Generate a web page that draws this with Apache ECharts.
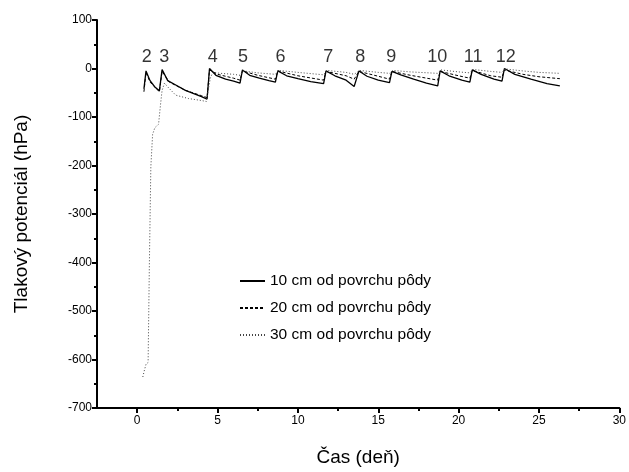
<!DOCTYPE html>
<html lang="sk">

<head>
    <meta charset="UTF-8">
    <title>Tlakový potenciál</title>
    <style>
        html, body { margin: 0; padding: 0; background: #fff; }
        #chart { width: 629px; height: 472px; }
    </style>
    <script src="https://cdn.jsdelivr.net/npm/echarts@6/dist/echarts.min.js"></script>
</head>

<body>
    <div id="chart"></div>

    <script>
        // [day, hPa]
        var depth10 = [
            [0.42, -42], [0.55, -5], [0.8, -25], [1.1, -38], [1.38, -46], [1.55, -2],
            [1.9, -25], [2.4, -34], [3.0, -45], [3.6, -53], [4.0, -58], [4.35, -63],
            [4.5, 0], [4.9, -14], [5.5, -22], [6.0, -26], [6.4, -30], [6.55, -3],
            [7.0, -14], [7.6, -20], [8.2, -25], [8.6, -28], [8.75, -5], [9.3, -15],
            [10.0, -21], [10.8, -27], [11.6, -31], [11.75, -5], [12.3, -15], [13.0, -24],
            [13.5, -37], [13.8, -5], [14.3, -16], [15.0, -24], [15.7, -29], [15.85, -6],
            [16.4, -13], [17.2, -22], [18.0, -30], [18.7, -36], [18.85, -5], [19.4, -15],
            [20.2, -24], [20.7, -28], [20.85, -3], [21.4, -12], [22.2, -22], [22.7, -26],
            [22.85, 0], [23.5, -12], [24.5, -22], [25.5, -31], [26.3, -36]
        ];
        var depth20 = [
            [0.42, -48], [0.55, -8], [0.8, -28], [1.38, -48], [1.55, -6], [2.0, -28],
            [3.0, -45], [4.0, -56], [4.35, -60], [4.5, -3], [5.0, -12], [6.0, -20],
            [6.4, -24], [6.55, -5], [7.5, -14], [8.6, -22], [8.75, -5], [10.0, -15],
            [11.6, -24], [11.75, -6], [13.0, -15], [13.5, -22], [13.8, -6], [15.0, -16],
            [15.7, -22], [15.85, -6], [17.0, -14], [18.7, -24], [18.85, -6], [20.0, -15],
            [20.7, -20], [20.85, -4], [22.0, -15], [22.7, -18], [22.85, -3], [24.0, -12],
            [25.0, -17], [26.3, -21]
        ];
        var depth30 = [
            [0.35, -636], [0.45, -622], [0.55, -610], [0.68, -606], [0.76, -400], [0.85, -203],
            [0.96, -136], [1.1, -122], [1.33, -115], [1.45, -75], [1.55, -45], [1.7, -30],
            [1.9, -38], [2.4, -55], [3.2, -62], [4.0, -66], [4.3, -68], [4.55, -20],
            [4.7, -8], [5.2, -10], [6.0, -12], [6.4, -14], [6.6, -5], [7.5, -9],
            [8.6, -12], [8.8, -4], [10.0, -8], [11.6, -13], [11.8, -4], [13.0, -8],
            [13.5, -12], [13.85, -4], [15.0, -8], [15.7, -10], [15.9, -4], [17.0, -7],
            [18.7, -10], [18.9, -3], [20.0, -7], [20.7, -9], [20.9, -2], [22.0, -6],
            [22.7, -8], [22.9, -1], [24.0, -5], [25.0, -8], [26.3, -10]
        ];

        // numbered events above the peaks
        var peakNames = ['2', '3', '4', '5', '6', '7', '8', '9', '10', '11', '12'];
        var peakDays = [0.6, 1.69, 4.71, 6.58, 8.92, 11.89, 13.875, 15.81, 18.67, 20.9, 22.94];
        var peakLevel = 24;

        var xMajor = [0, 5, 10, 15, 20, 25, 30];
        var xMinor = [2.5, 7.5, 12.5, 17.5, 22.5, 27.5];

        var seriesNames = ['10 cm od povrchu pôdy', '20 cm od povrchu pôdy', '30 cm od povrchu pôdy'];

        var font = 'Arial, "Liberation Sans", sans-serif';

        var peakData = peakDays.map(function (d, i) {
            return { name: peakNames[i], value: [d, peakLevel] };
        });

        var myChart = echarts.init(document.getElementById('chart'));

        var option = {
            animation: false,
            backgroundColor: '#fff',
            textStyle: { fontFamily: font, color: '#000' },
            grid: { left: 97, right: 9, top: 20, bottom: 63, containLabel: false },
            legend: {
                data: seriesNames,
                orient: 'vertical',
                left: 234,
                top: 268,
                itemWidth: 25,
                itemHeight: 12,
                itemGap: 11,
                itemStyle: { opacity: 0 },
                textStyle: { fontFamily: font, fontSize: 15.5, color: '#000' }
            },
            xAxis: [
                {
                    type: 'value',
                    min: -2.5,
                    max: 30,
                    position: 'bottom',
                    name: 'Čas (deň)',
                    nameLocation: 'middle',
                    nameGap: 40,
                    nameTextStyle: { fontFamily: font, fontSize: 19, color: '#000' },
                    axisLine: { show: true, onZero: false, lineStyle: { color: '#000', width: 2 } },
                    axisTick: { show: true, customValues: xMajor, length: 5, lineStyle: { color: '#000', width: 2 } },
                    axisLabel: { show: true, customValues: xMajor, fontSize: 12, color: '#000', margin: 7 },
                    splitLine: { show: false }
                },
                {
                    type: 'value',
                    min: -2.5,
                    max: 30,
                    position: 'bottom',
                    axisLine: { show: false, onZero: false },
                    axisTick: { show: true, customValues: xMinor, length: 3, lineStyle: { color: '#000', width: 2 } },
                    axisLabel: { show: false },
                    splitLine: { show: false }
                }
            ],
            yAxis: {
                type: 'value',
                min: -700,
                max: 100,
                interval: 100,
                name: 'Tlakový potenciál (hPa)',
                nameLocation: 'middle',
                nameRotate: 90,
                nameGap: 66,
                nameTextStyle: { fontFamily: font, fontSize: 19, color: '#000' },
                axisLine: { show: true, onZero: false, lineStyle: { color: '#000', width: 2 } },
                axisTick: { show: true, length: 5, lineStyle: { color: '#000', width: 2 } },
                minorTick: { show: true, splitNumber: 2, length: 3, lineStyle: { color: '#000', width: 2 } },
                axisLabel: { fontSize: 12, color: '#000', margin: 5 },
                splitLine: { show: false },
                minorSplitLine: { show: false }
            },
            series: [
                {
                    name: seriesNames[0],
                    type: 'line',
                    xAxisIndex: 0,
                    symbol: 'none',
                    data: depth10,
                    lineStyle: { color: '#000', width: 1.3, type: 'solid' },
                    itemStyle: { color: '#000' }
                },
                {
                    name: seriesNames[1],
                    type: 'line',
                    xAxisIndex: 0,
                    symbol: 'none',
                    data: depth20,
                    lineStyle: { color: '#000', width: 1, type: [3, 2] },
                    itemStyle: { color: '#000' }
                },
                {
                    name: seriesNames[2],
                    type: 'line',
                    xAxisIndex: 0,
                    symbol: 'none',
                    data: depth30,
                    lineStyle: { color: '#444', width: 1, type: [1, 2] },
                    itemStyle: { color: '#444' }
                },
                {
                    name: 'peaks',
                    type: 'scatter',
                    xAxisIndex: 0,
                    symbolSize: 0,
                    data: peakData,
                    silent: true,
                    label: {
                        show: true,
                        position: 'inside',
                        formatter: '{b}',
                        fontFamily: font,
                        fontSize: 18,
                        color: '#000'
                    }
                }
            ]
        };

        myChart.setOption(option);
    </script>
</body>

</html>
